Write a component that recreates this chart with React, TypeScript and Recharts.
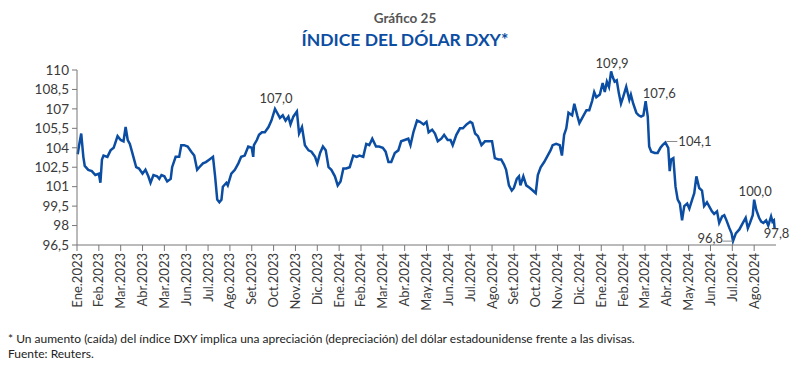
import { LineChart, Line, XAxis, YAxis, ReferenceDot } from "recharts";

// Etiquetas del eje X tal como aparecen en el gráfico original
const meses = [
  "Ene.2023", "Feb.2023", "Mar.2023", "Abr.2023", "Mar.2023", "Jun.2023", "Jul.2023", "Ago.2023",
  "Set.2023", "Oct.2023", "Nov.2023", "Dic.2023", "Ene.2024", "Feb.2024", "Mar.2024", "Abr.2024",
  "May.2024", "Jun.2024", "Jul.2024", "Ago.2024", "Set.2024", "Oct.2024", "Nov.2024", "Dic.2024",
  "Ene.2024", "Feb.2024", "Mar.2024", "Abr.2024", "May.2024", "Jun.2024", "Jul.2024", "Ago.2024",
];

const yTicks = [96.5, 98, 99.5, 101, 102.5, 104, 105.5, 107, 108.5, 110];

// DXY (lecturas aproximadas del gráfico)
const fechas2023 = [
  "01-02", "01-04", "01-07", "01-10", "01-12", "01-17", "01-22", "01-27",
  "02-01", "02-03", "02-05", "02-07", "02-12", "02-16", "02-20", "02-25",
  "03-01", "03-05", "03-08", "03-11", "03-14", "03-17", "03-20", "03-23", "03-27",
  "04-01", "04-05", "04-09", "04-12", "04-16", "04-21", "04-24", "04-27",
  "05-01", "05-05", "05-10", "05-12", "05-17", "05-22", "05-25", "05-29",
  "06-03", "06-08", "06-12", "06-16", "06-19", "06-24", "06-28",
  "07-03", "07-08", "07-11", "07-14", "07-17", "07-20", "07-22", "07-27", "07-29",
  "08-03", "08-08", "08-13", "08-17", "08-22", "08-27",
  "09-01", "09-03", "09-04", "09-08", "09-11", "09-15", "09-19", "09-24", "09-28",
  "10-03", "10-06", "10-10", "10-14", "10-18", "10-22", "10-25", "10-29",
  "11-03", "11-06", "11-10", "11-14", "11-19", "11-23", "11-28",
  "12-01", "12-05", "12-09", "12-13", "12-17", "12-21", "12-26", "12-30",
];
const dxy2023 = [
  103.5, 104.2, 105.1, 103.3, 102.6, 102.3, 102.2, 101.9,
  102.0, 101.3, 103.1, 103.4, 103.3, 103.8, 104.0, 104.9,
  104.6, 104.5, 105.6, 104.6, 104.3, 103.7, 103.1, 102.5, 102.4,
  102.0, 102.3, 101.8, 101.3, 101.9, 101.8, 101.6, 101.9,
  101.8, 101.4, 101.6, 102.5, 103.3, 103.3, 104.2, 104.2,
  104.1, 103.7, 103.4, 102.3, 102.5, 102.8, 102.9,
  103.1, 103.3, 101.8, 100.0, 99.8, 100.0, 101.0, 101.3, 101.1,
  102.0, 102.3, 102.8, 103.3, 103.4, 104.1,
  104.0, 103.3, 104.2, 104.6, 105.0, 105.2, 105.2, 105.6, 106.1,
  107.0, 106.7, 106.3, 106.5, 106.1, 106.4, 105.8, 106.4,
  106.8, 105.1, 105.6, 104.2, 103.8, 103.7, 103.3,
  102.8, 103.6, 104.1, 103.8, 102.5, 102.3, 101.8, 101.1,
];

const fechas2024 = [
  "01-03", "01-07", "01-11", "01-16", "01-21", "01-26", "01-30",
  "02-04", "02-08", "02-12", "02-16", "02-21", "02-25",
  "03-01", "03-05", "03-09", "03-13", "03-18", "03-23", "03-27",
  "04-01", "04-06", "04-09", "04-13", "04-18", "04-22", "04-27",
  "05-01", "05-04", "05-09", "05-13", "05-17", "05-22", "05-26", "05-31",
  "06-04", "06-07", "06-12", "06-17", "06-21", "06-26",
  "07-01", "07-04", "07-08", "07-12", "07-17", "07-22", "07-26",
  "08-01", "08-05", "08-10", "08-14", "08-18", "08-21", "08-25", "08-29",
  "09-01", "09-05", "09-08", "09-10", "09-14", "09-18", "09-23", "09-27",
  "10-01", "10-04", "10-08", "10-13", "10-17", "10-22", "10-25", "10-30",
  "11-04", "11-07", "11-10", "11-13", "11-16", "11-21", "11-24", "11-28",
  "12-01", "12-06", "12-11", "12-15", "12-19", "12-22", "12-25", "12-30",
];
const dxy2024 = [
  101.4, 102.4, 102.4, 102.5, 103.4, 103.3, 103.4,
  103.3, 104.3, 104.2, 104.7, 104.1, 104.1,
  104.0, 103.7, 102.9, 102.9, 103.6, 103.8, 104.5,
  104.6, 104.7, 104.2, 105.2, 106.1, 106.0, 105.8,
  106.0, 105.2, 105.4, 105.1, 104.5, 104.7, 105.0, 104.6,
  104.6, 104.2, 105.0, 105.5, 105.5, 105.8,
  106.0, 105.9, 105.1, 104.9, 104.2, 104.5, 104.5,
  104.5, 103.2, 103.1, 103.1, 102.7, 102.3, 101.1, 100.7,
  100.9, 101.6, 101.8, 101.1, 101.8, 101.1, 100.9, 100.7,
  100.5, 101.9, 102.5, 102.9, 103.3, 103.8, 104.2, 104.3,
  104.2, 103.4, 105.0, 105.5, 106.7, 106.5, 107.4, 106.5,
  105.9, 106.4, 106.9, 106.9, 107.6, 108.3, 107.9, 108.1,
];

const fechas2025 = [
  "01-03", "01-06", "01-09", "01-12", "01-15", "01-17", "01-20", "01-23", "01-26", "01-29",
  "02-01", "02-05", "02-09", "02-11", "02-14", "02-18", "02-21", "02-24", "02-27",
  "03-02", "03-05", "03-07", "03-10", "03-15", "03-19", "03-23", "03-26", "03-30",
  "04-03", "04-05", "04-07", "04-10", "04-13", "04-16", "04-19", "04-22", "04-25", "04-29",
  "05-02", "05-06", "05-09", "05-12", "05-16", "05-20", "05-23", "05-27", "05-30",
  "06-03", "06-06", "06-10", "06-13", "06-17", "06-20", "06-23", "06-27", "06-30",
  "07-02", "07-06", "07-11", "07-16", "07-20", "07-23", "07-26", "07-30",
  "08-01", "08-04", "08-08", "08-11", "08-14", "08-18", "08-21", "08-25", "08-27", "08-29", "08-30",
];
const dxy2025 = [
  109.0, 108.3, 109.1, 108.7, 109.9, 109.5, 109.1, 109.2, 108.2, 107.4,
  107.9, 108.7, 107.7, 108.1, 107.4, 106.7, 106.5, 106.4, 106.5,
  107.6, 106.4, 104.1, 103.7, 103.6, 103.6, 104.0, 104.2, 104.4,
  104.0, 102.2, 103.1, 103.2, 101.0, 100.0, 99.7, 98.4, 99.5, 99.7,
  99.3, 100.0, 100.5, 101.8, 100.9, 100.7, 99.5, 99.8, 99.5,
  99.1, 98.9, 99.1, 98.2, 98.7, 98.8, 98.4, 97.8, 97.4,
  96.8, 97.4, 97.7, 98.2, 98.6, 97.8, 98.2, 98.8,
  100.0, 99.2, 98.6, 98.3, 98.2, 98.4, 98.0, 98.7, 98.3, 98.4, 97.8,
];

// Valores destacados
const destacados = [
  { fecha: "2023-10-03", valor: 107.0 },
  { fecha: "2025-01-15", valor: 109.9 },
  { fecha: "2025-03-02", valor: 107.6 },
  { fecha: "2025-03-30", valor: 104.1 },
  { fecha: "2025-07-02", valor: 96.8 },
  { fecha: "2025-08-01", valor: 100.0 },
  { fecha: "2025-08-30", valor: 97.8 },
];

const toMonth = (iso: string) => {
  const [y, m, d] = iso.split("-").map(Number);
  const dim = new Date(y, m, 0).getDate();
  return (y - 2023) * 12 + (m - 1) + (d - 1) / dim;
};

const serie = [
  ...fechas2023.map((f, i) => ({ t: toMonth(`2023-${f}`), v: dxy2023[i] })),
  ...fechas2024.map((f, i) => ({ t: toMonth(`2024-${f}`), v: dxy2024[i] })),
  ...fechas2025.map((f, i) => ({ t: toMonth(`2025-${f}`), v: dxy2025[i] })),
];

const fmt1 = (v: number) => v.toFixed(1).replace(".", ",");

const FONT = "Lato, 'Open Sans', sans-serif";
const BLUE = "#0b4da2";
const TXT = "#3a3a3a";

const MonthTick = ({ x, y, payload }: any) => (
  <text
    x={x}
    y={y}
    dy={4.5}
    transform={`rotate(-90, ${x}, ${y})`}
    textAnchor="end"
    fontSize={13}
    fontFamily={FONT}
    fill={TXT}>
    {meses[payload.value]}
  </text>
);

// posición de cada etiqueta respecto a su punto
const labelShape = (i: number) => (props: any) => {
  const { cx, cy } = props;
  const txt = fmt1(destacados[i].valor);
  const common = { fontSize: 13, fontFamily: FONT, fill: TXT };
  switch (i) {
    case 0:
      return <text x={cx + 1} y={cy - 6} textAnchor="middle" {...common}>{txt}</text>;
    case 1:
      return <text x={cx + 1} y={cy - 3} textAnchor="middle" {...common}>{txt}</text>;
    case 2:
      return <text x={cx - 3} y={cy - 3} textAnchor="start" {...common}>{txt}</text>;
    case 3:
      return (
        <g>
          <line x1={cx + 1} y1={cy - 5} x2={cx + 12} y2={cy - 5} stroke="#888" strokeWidth={1} />
          <text x={cx + 13} y={cy - 0.5} textAnchor="start" {...common}>{txt}</text>
        </g>
      );
    case 4:
      return (
        <g>
          <line x1={cx - 10} y1={cy} x2={cx} y2={cy} stroke="#888" strokeWidth={1} />
          <text x={cx - 10} y={cy + 2} textAnchor="end" {...common}>{txt}</text>
        </g>
      );
    case 5:
      return <text x={cx + 1} y={cy - 4} textAnchor="middle" {...common}>{txt}</text>;
    default:
      return <text x={cx + 2} y={cy + 10} textAnchor="middle" {...common}>{txt}</text>;
  }
};

export default function App() {
  return (
    <div style={{ position: "absolute", left: 0, top: 0, width: 800, height: 375, background: "#fff", fontFamily: FONT }}>
      <div style={{ position: "absolute", top: 10, left: 0, width: 810, textAlign: "center", fontSize: 13.5, fontWeight: 700, color: "#555" }}>
        Gráfico 25
      </div>
      <div style={{ position: "absolute", top: 29, left: 0, width: 810, textAlign: "center", fontSize: 17.5, fontWeight: 700, color: "#0b4da2" }}>
        ÍNDICE DEL DÓLAR DXY*
      </div>
      <LineChart width={800} height={320} data={serie} margin={{ top: 70, right: 24, bottom: 5, left: 17 }}>
        <XAxis
          type="number"
          dataKey="t"
          domain={[0, 32]}
          ticks={meses.map((_, i) => i)}
          interval={0}
          tick={<MonthTick />}
          tickSize={6}
          height={70}
          axisLine={{ stroke: "#777" }}
          tickLine={{ stroke: "#777" }}
        />
        <YAxis
          type="number"
          domain={[96.5, 110]}
          ticks={yTicks}
          interval={0}
          width={60}
          tickSize={5}
          tickMargin={3}
          tickFormatter={(v: number) => (Number.isInteger(v) ? String(v) : fmt1(v))}
          tick={{ fontSize: 13.5, fontFamily: FONT, fill: TXT }}
          axisLine={{ stroke: "#777" }}
          tickLine={{ stroke: "#777" }}
        />
        <Line type="linear" dataKey="v" stroke={BLUE} strokeWidth={2.5} dot={false} isAnimationActive={false} />
        {destacados.map((d, i) => (
          <ReferenceDot key={i} x={toMonth(d.fecha)} y={d.valor} r={0} shape={labelShape(i)} />
        ))}
      </LineChart>
      <div style={{ position: "absolute", top: 331, left: 8, fontSize: 12, color: "#222", lineHeight: "15px" }}>
        * Un aumento (caída) del índice DXY implica una apreciación (depreciación) del dólar estadounidense frente a las divisas.
        <br />
        Fuente: Reuters.
      </div>
    </div>
  );
}
